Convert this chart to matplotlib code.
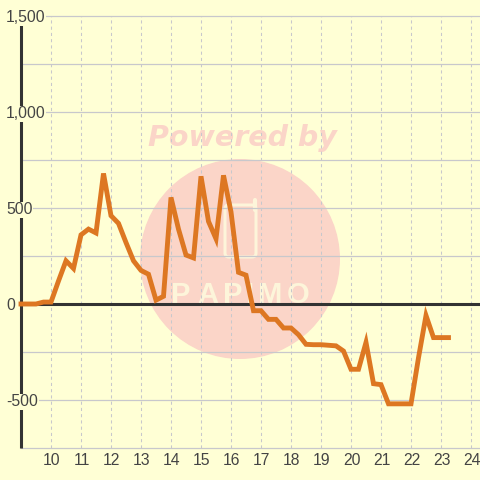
#!/usr/bin/env python3
# line chart over the hours of a day, with the faded logo behind it
import matplotlib
matplotlib.use("Agg")
import matplotlib.pyplot as plt
from matplotlib.patches import Circle, FancyBboxPatch

hours = [9, 9.25, 9.5, 9.75, 10, 10.25, 10.5, 10.75, 11, 11.25, 11.5, 11.75,
         12, 12.25, 12.5, 12.75, 13, 13.25, 13.5, 13.75, 14, 14.25, 14.5, 14.75,
         15, 15.25, 15.5, 15.75, 16, 16.25, 16.5, 16.75, 17, 17.25, 17.5, 17.75,
         18, 18.25, 18.5, 18.75, 19, 19.25, 19.5, 19.75, 20, 20.25, 20.5, 20.75,
         21, 21.25, 21.5, 21.75, 22, 22.25, 22.5, 22.75, 23, 23.25]
values = [0, 0, 0, 10, 10, 120, 225, 185, 360, 390, 370, 680,
          460, 420, 320, 225, 175, 155, 20, 40, 555, 390, 255, 240,
          665, 430, 340, 670, 480, 165, 150, -35, -35, -80, -80, -125,
          -125, -160, -210, -212, -212, -215, -218, -245, -340, -340, -200, -415,
          -420, -520, -520, -520, -520, -280, -60, -175, -175, -175]

x_ticks = list(range(10, 25))
y_major = [1500, 1000, 500, 0, -500]
y_grid = [1500, 1250, 1000, 750, 500, 250, 0, -250, -500, -750]
y_labels = ["1,500", "1,000", "500", "0", "-500"]
logo_letters = list("PAPIMO")

BG = "#ffffd5"
GRID = "#c8c8cc"
DARK = "#333333"
TEXT = "#444444"
ORANGE = "#dd7722"
PINK = "#fbd5c8"
PALE = "#fdf5da"

plt.rcParams["font.family"] = ["Liberation Sans", "DejaVu Sans"]
fig = plt.figure(figsize=(4.8, 4.8), dpi=100, facecolor=BG)

# watermark goes on its own axes in pixel units
bg = fig.add_axes([0, 0, 1, 1], zorder=0)
bg.set_xlim(0, 480)
bg.set_ylim(480, 0)
bg.axis("off")
bg.add_patch(Circle((240, 259), 100, color=PINK, lw=0))
bg.text(242, 146, "Powered by", family="DejaVu Sans", weight="bold", style="oblique",
        fontsize=20.5, color=PINK, ha="center", va="baseline")
bg.add_patch(FancyBboxPatch((225, 205), 31, 52, boxstyle="round,pad=0,rounding_size=4",
                            fc="none", ec=PALE, lw=2.2))
bg.plot([255, 255], [200, 210], color=PALE, lw=3, solid_capstyle="round")
for px, letter in zip([181, 208, 233, 250, 270, 298], logo_letters):
    bg.text(px, 303, letter, family="Liberation Sans", weight="bold", fontsize=21,
            color=PALE, ha="center", va="baseline")

ax = fig.add_axes([0, 0, 1, 1], zorder=1)
ax.patch.set_alpha(0)
ax.set_xlim(8.3, 24.3)
ax.set_ylim(-916.7, 1583.3)
ax.axis("off")

for y in y_grid:
    ax.plot([9, 24.3], [y, y], color=GRID, lw=0.9, zorder=1)
for x in x_ticks:
    ax.plot([x, x], [-750, 1500], color=GRID, lw=0.75, ls=(0, (3, 3)), zorder=1)

ax.plot([9, 9], [-750, 1500], color=DARK, lw=2.2, zorder=2, solid_capstyle="butt")
ax.plot([9, 24.3], [0, 0], color=DARK, lw=2.2, zorder=2, solid_capstyle="butt")

for y, label in zip(y_major, y_labels):
    ax.text(6 / 30 + 8.3, y - 10, label, fontsize=11.3, color=TEXT, ha="left", va="center", zorder=3,
            bbox=dict(fc=BG, ec="none", pad=0.5))
for x in x_ticks:
    ax.text(x + 0.02, -817, str(x), fontsize=11.3, color=TEXT, ha="center", va="center", zorder=3)

ax.plot(hours, values, color=ORANGE, lw=3.5, solid_joinstyle="miter", zorder=4)

fig.savefig("out.png", dpi=100, facecolor=BG)
